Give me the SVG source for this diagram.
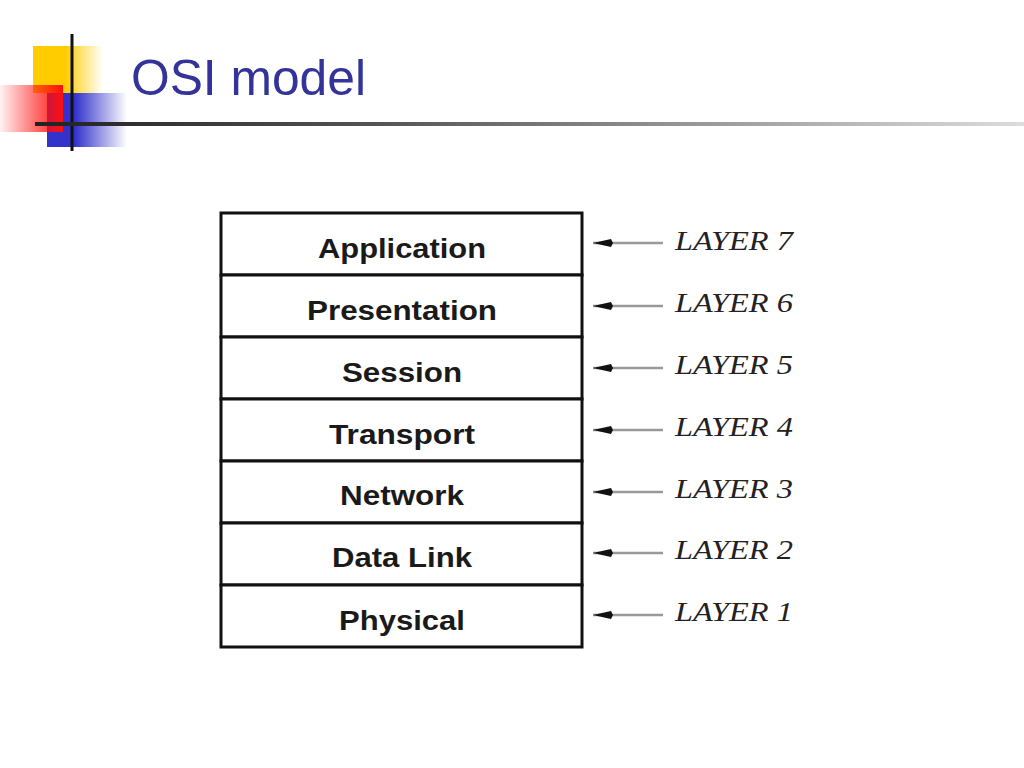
<svg xmlns="http://www.w3.org/2000/svg" width="1024" height="768" viewBox="0 0 1024 768">
<style>
.box{fill:#fff;stroke:#111;stroke-width:3}
.lbl{font-family:"Liberation Sans",Arial,sans-serif;font-weight:bold;font-size:27px;fill:#1a1a1a;text-anchor:middle}
.lay{font-family:"Liberation Serif","Times New Roman",serif;font-style:italic;font-size:27px;fill:#222}
.conn{stroke:#999;stroke-width:2.5;fill:none}
.title{font-family:"Liberation Sans",Tahoma,sans-serif;font-size:50px;fill:#333399}
</style>
<defs>
<linearGradient id="gy" x1="0" y1="0" x2="1" y2="0"><stop offset="0.45" stop-color="#ffcc00"/><stop offset="1" stop-color="#ffcc00" stop-opacity="0"/></linearGradient>
<linearGradient id="gr" x1="0" y1="0" x2="1" y2="0"><stop offset="0" stop-color="#ff0000" stop-opacity="0.05"/><stop offset="1" stop-color="#ff1010"/></linearGradient>
<linearGradient id="gb" x1="0" y1="0" x2="1" y2="0"><stop offset="0.35" stop-color="#3333cc"/><stop offset="1" stop-color="#3333cc" stop-opacity="0"/></linearGradient>
<linearGradient id="gl" x1="0" y1="0" x2="1" y2="0"><stop offset="0" stop-color="#222"/><stop offset="0.35" stop-color="#555"/><stop offset="1" stop-color="#ddd"/></linearGradient>
<marker id="ah" markerWidth="20" markerHeight="10" refX="20" refY="5" orient="auto" markerUnits="userSpaceOnUse"><path d="M20,5 L2,1 L0,5 L2,9 Z" fill="#111"/></marker>
</defs>
<g id="logo">
<rect x="33" y="46" width="70" height="47" fill="url(#gy)"/>
<rect x="47" y="93" width="80" height="54" fill="url(#gb)"/>
<rect x="0" y="85" width="63" height="47" fill="url(#gr)"/>
<rect x="70.5" y="34" width="3" height="117" fill="#111"/>
<rect x="35" y="122" width="989" height="4" fill="url(#gl)"/>
</g>
<text class="title" x="131" y="95" textLength="235" lengthAdjust="spacingAndGlyphs">OSI model</text>
<g id="layer7"><rect class="box" x="221" y="213" width="361" height="62"/><text class="lbl" x="402" y="258" textLength="168" lengthAdjust="spacingAndGlyphs">Application</text><text class="lay" x="675" y="250" textLength="118" lengthAdjust="spacingAndGlyphs">LAYER 7</text></g>
<g id="layer6"><rect class="box" x="221" y="275" width="361" height="62"/><text class="lbl" x="402" y="320" textLength="190" lengthAdjust="spacingAndGlyphs">Presentation</text><text class="lay" x="675" y="312" textLength="118" lengthAdjust="spacingAndGlyphs">LAYER 6</text></g>
<g id="layer5"><rect class="box" x="221" y="337" width="361" height="62"/><text class="lbl" x="402" y="382" textLength="120" lengthAdjust="spacingAndGlyphs">Session</text><text class="lay" x="675" y="374" textLength="118" lengthAdjust="spacingAndGlyphs">LAYER 5</text></g>
<g id="layer4"><rect class="box" x="221" y="399" width="361" height="62"/><text class="lbl" x="402" y="444" textLength="146" lengthAdjust="spacingAndGlyphs">Transport</text><text class="lay" x="675" y="436" textLength="118" lengthAdjust="spacingAndGlyphs">LAYER 4</text></g>
<g id="layer3"><rect class="box" x="221" y="461" width="361" height="62"/><text class="lbl" x="402" y="505" textLength="124" lengthAdjust="spacingAndGlyphs">Network</text><text class="lay" x="675" y="498" textLength="118" lengthAdjust="spacingAndGlyphs">LAYER 3</text></g>
<g id="layer2"><rect class="box" x="221" y="523" width="361" height="62"/><text class="lbl" x="402" y="567" textLength="140" lengthAdjust="spacingAndGlyphs">Data Link</text><text class="lay" x="675" y="559" textLength="118" lengthAdjust="spacingAndGlyphs">LAYER 2</text></g>
<g id="layer1"><rect class="box" x="221" y="585" width="361" height="62"/><text class="lbl" x="402" y="630" textLength="126" lengthAdjust="spacingAndGlyphs">Physical</text><text class="lay" x="675" y="621" textLength="118" lengthAdjust="spacingAndGlyphs">LAYER 1</text></g>
<g id="connectors">
<line class="conn" x1="663" y1="243" x2="593" y2="243" marker-end="url(#ah)"/>
<line class="conn" x1="663" y1="306" x2="593" y2="306" marker-end="url(#ah)"/>
<line class="conn" x1="663" y1="368" x2="593" y2="368" marker-end="url(#ah)"/>
<line class="conn" x1="663" y1="430" x2="593" y2="430" marker-end="url(#ah)"/>
<line class="conn" x1="663" y1="492" x2="593" y2="492" marker-end="url(#ah)"/>
<line class="conn" x1="663" y1="553" x2="593" y2="553" marker-end="url(#ah)"/>
<line class="conn" x1="663" y1="615" x2="593" y2="615" marker-end="url(#ah)"/>
</g>
</svg>
